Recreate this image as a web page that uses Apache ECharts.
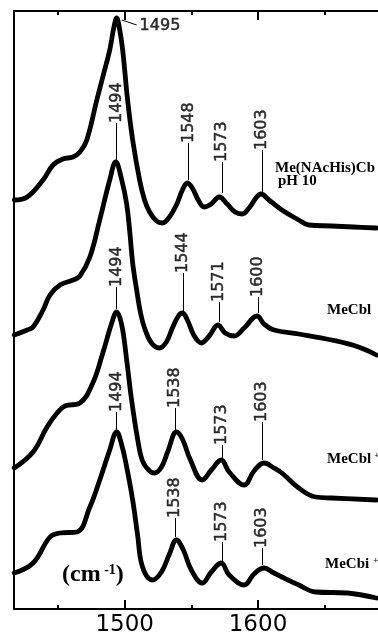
<!DOCTYPE html>
<html>
<head>
<meta charset="utf-8">
<script src="https://cdn.jsdelivr.net/npm/echarts@6/dist/echarts.min.js"></script>
<style>
  html, body { margin: 0; padding: 0; background: #fff; }
  #chart { width: 378px; height: 635px; }
</style>
</head>
<body>
<div id="chart"></div>
<script>
// wavenumber range (cm-1) and ticks
const xMin = 1417;
const xMax = 1690;
const majorTicks = [1500, 1600];
const minorTicks = [1450, 1550, 1650];

// spectra, [wavenumber, intensity (arb.)]
const nacHis = [[1417.2,409],[1426.9,412],[1438.8,429],[1446.3,444],[1453.7,450],[1461.2,452],[1466.4,457],[1471.6,469],[1479.1,509],[1483.6,532],[1488.8,559],[1491.8,581],[1494.0,591],[1496.3,579],[1498.5,559],[1502.2,509],[1506.0,469],[1511.2,429],[1514.9,409],[1518.7,397],[1523.9,388],[1528.4,386],[1533.6,392],[1538.8,404],[1543.3,419],[1547.0,426],[1550.7,421],[1555.2,409],[1559.7,402],[1564.9,405],[1571.0,412],[1576.9,405],[1582.8,397],[1588.1,395],[1593.3,401],[1598.5,411],[1602.2,415],[1608.2,409],[1617.9,399],[1630.6,389],[1638.1,384],[1655.2,383],[1671.6,382],[1688.8,381]];
const meCbl = [[1417.2,274],[1426.9,279],[1431.3,282],[1438.8,299],[1444.0,314],[1451.5,324],[1461.2,329],[1466.4,333],[1473.9,352],[1481.3,389],[1488.8,429],[1493.3,447],[1497.8,429],[1501.5,405],[1503.7,379],[1506.0,346],[1509.0,319],[1511.9,296],[1514.9,281],[1520.1,266],[1526.1,261],[1531.3,267],[1535.8,281],[1540.3,293],[1543.3,296],[1547.0,289],[1552.2,273],[1557.5,266],[1563.4,273],[1570.0,284],[1575.4,276],[1582.1,273],[1589.6,281],[1599.3,293],[1604.5,285],[1612.0,279],[1630.6,275],[1655.2,269],[1675.4,262],[1688.8,254]];
const meCblPlus = [[1417.2,141],[1431.3,157],[1441.8,182],[1449.3,196],[1455.2,203],[1466.4,206],[1476.1,226],[1483.6,256],[1490.3,286],[1494.0,297],[1497.8,284],[1501.5,249],[1505.2,209],[1509.7,170],[1513.4,148],[1518.7,138],[1522.4,136],[1527.6,142],[1532.5,158],[1538.8,177],[1543.3,170],[1549.0,150],[1558.2,129],[1565.0,139],[1572.4,149],[1578.4,137],[1589.6,124],[1597.0,138],[1604.5,146],[1612.0,141],[1617.9,136],[1630.6,121],[1643.3,112],[1655.2,111],[1688.8,109]];
const meCbiPlus = [[1417.2,36],[1431.3,46],[1444.0,72],[1451.5,76],[1464.2,77],[1473.9,102],[1481.3,129],[1488.8,159],[1494.0,177],[1497.8,164],[1501.5,142],[1506.0,109],[1509.7,74],[1513.4,42],[1520.9,29],[1527.6,37],[1533.6,55],[1538.8,69],[1544.0,59],[1550.0,39],[1558.2,26],[1565.0,37],[1572.4,46],[1578.4,34],[1589.6,24],[1597.0,35],[1604.5,41],[1612.0,36],[1617.9,32],[1630.6,24],[1643.3,17],[1667.0,16],[1688.8,11]];

// peak labels
const topPeak = 1495;
const peaksNacHis = [1548, 1573, 1603];
const peaksCbl = [1494, 1544, 1571, 1600];
const peaksCblPlus = [1494, 1538, 1573, 1603];
const peaksCbiPlus = [1494, 1538, 1573, 1603];

// stem [bottom, top] of each peak label line (layout only)
const stemsNacHis = [[429,466],[416,447],[417,459]];
const stemsCbl = [[449,486],[297,336],[287,307],[296,312]];
const stemsCblPlus = [[300,322],[179,201],[151,164],[149,187]];
const stemsCbiPlus = [[179,197],[72,91],[47,67],[44,61]];

const black = '#000';
const sans = 'DejaVu Sans';
const serifBold = 'bold 15px "Liberation Serif"';

function trace(data) {
  return {
    type: 'line', data: data, symbol: 'none', showSymbol: false,
    smooth: 0.4, silent: true, z: 3,
    lineStyle: { color: black, width: 4.8, cap: 'round', join: 'round' }
  };
}

const tagLabel = {
  show: true, position: 'inside', align: 'left', verticalAlign: 'middle',
  formatter: (p) => p.value[2], fontFamily: sans, fontSize: 16, color: black,
  textBorderColor: black, textBorderWidth: 0.5
};

function tags(peaks, stems) {
  return {
    type: 'scatter', symbolSize: 0, silent: true, z: 4,
    data: peaks.map((p, i) => [p, stems[i][1], String(p)]),
    label: Object.assign({}, tagLabel, { rotate: 90 }),
    markLine: {
      silent: true, symbol: 'none', animation: false,
      label: { show: false },
      lineStyle: { color: black, width: 1, type: 'solid' },
      data: peaks.map((p, i) => [{ coord: [p, stems[i][0]] }, { coord: [p, stems[i][1]] }])
    }
  };
}

function xAx(pos, ticks, len, withLine, withLabel) {
  return {
    type: 'value', position: pos, min: xMin, max: xMax,
    axisLine: { show: withLine, onZero: false, lineStyle: { color: black, width: 2 } },
    axisTick: { show: true, inside: true, length: len, customValues: ticks, lineStyle: { color: black, width: 2 } },
    axisLabel: {
      show: withLabel, customValues: ticks, formatter: (v) => String(v),
      fontFamily: sans, fontSize: 23, color: black, margin: 5
    },
    splitLine: { show: false }
  };
}

const chart = echarts.init(document.getElementById('chart'));
chart.setOption({
  animation: false,
  backgroundColor: '#fff',
  grid: { left: 14, right: 0, top: 11, bottom: 26, containLabel: false, outerBoundsMode: 'none' },
  xAxis: [
    xAx('bottom', majorTicks, 9, true, true),
    xAx('bottom', minorTicks, 4, false, false),
    xAx('top', majorTicks, 9, true, false),
    xAx('top', minorTicks, 4, false, false)
  ],
  yAxis: {
    type: 'value', min: 0, max: 598,
    axisLine: { show: true, onZero: false, lineStyle: { color: black, width: 2 } },
    axisTick: { show: false }, axisLabel: { show: false }, splitLine: { show: false }
  },
  series: [
    trace(nacHis),
    trace(meCbl),
    trace(meCblPlus),
    trace(meCbiPlus),
    tags(peaksNacHis, stemsNacHis),
    tags(peaksCbl, stemsCbl),
    tags(peaksCblPlus, stemsCblPlus),
    tags(peaksCbiPlus, stemsCbiPlus),
    {
      type: 'scatter', symbolSize: 0, silent: true, z: 4,
      data: [[1511.2, 583, String(topPeak)]],
      label: tagLabel,
      markLine: {
        silent: true, symbol: 'none', animation: false, label: { show: false },
        lineStyle: { color: black, width: 1, type: 'solid' },
        data: [[{ coord: [1497.8, 589] }, { coord: [1509, 584] }]]
      }
    }
  ],
  graphic: [
    { type: 'text', x: 275, y: 168, style: { text: 'Me(NAcHis)Cb', font: serifBold, fill: black, verticalAlign: 'middle' } },
    { type: 'text', x: 278, y: 181, style: { text: 'pH 10', font: serifBold, fill: black, verticalAlign: 'middle' } },
    { type: 'text', x: 327, y: 310, style: { text: 'MeCbl', font: serifBold, fill: black, verticalAlign: 'middle' } },
    { type: 'text', x: 327, y: 459, style: {
        text: '{a|MeCbl}{s|+}', font: serifBold, fill: black, verticalAlign: 'middle',
        rich: { a: { fontFamily: 'Liberation Serif', fontWeight: 'bold', fontSize: 15 },
                s: { fontFamily: 'Liberation Serif', fontWeight: 'bold', fontSize: 9, verticalAlign: 'top', padding: [0, 0, 0, 3] } } } },
    { type: 'text', x: 325, y: 564, style: {
        text: '{a|MeCbi}{s|+}', font: serifBold, fill: black, verticalAlign: 'middle',
        rich: { a: { fontFamily: 'Liberation Serif', fontWeight: 'bold', fontSize: 15 },
                s: { fontFamily: 'Liberation Serif', fontWeight: 'bold', fontSize: 9, verticalAlign: 'top', padding: [0, 0, 0, 4] } } } },
    { type: 'text', x: 62, y: 575, style: {
        text: '{a|(cm}{s| -1}{a|)}', font: 'bold 24px "Liberation Serif"', fill: black, verticalAlign: 'middle',
        rich: { a: { fontFamily: 'Liberation Serif', fontWeight: 'bold', fontSize: 24 },
                s: { fontFamily: 'Liberation Serif', fontWeight: 'bold', fontSize: 14, verticalAlign: 'top' } } } }
  ]
});
</script>
</body>
</html>
